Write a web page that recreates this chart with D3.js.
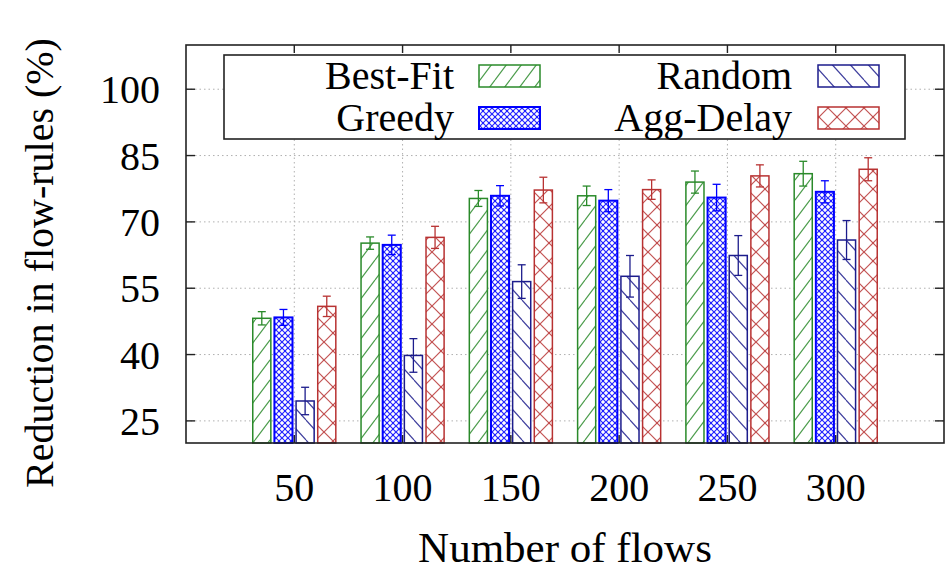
<!DOCTYPE html>
<html>
<head>
<meta charset="utf-8">
<script src="https://cdn.jsdelivr.net/npm/d3@7"></script>
<style>
  body { margin: 0; background: #fff; }
  svg text { font-family: "Liberation Serif", "DejaVu Serif", serif; fill: #000; }
</style>
</head>
<body>
<svg id="chart" width="945" height="570"></svg>
<script>
// data
const flows = ["50", "100", "150", "200", "250", "300"];
const seriesNames = ["Best-Fit", "Greedy", "Random", "Agg-Delay"];
const bestFit = [48.2, 65.2, 75.3, 75.9, 79.0, 80.9];
const bestFitErr = [1.5, 1.4, 1.8, 2.2, 2.5, 2.8];
const greedy = [48.4, 64.8, 75.9, 74.8, 75.5, 76.8];
const greedyErr = [1.8, 2.2, 2.3, 2.5, 3.0, 2.5];
const random = [29.5, 39.8, 56.5, 57.7, 62.4, 65.9];
const randomErr = [3.1, 3.8, 3.8, 4.7, 4.5, 4.4];
const aggDelay = [50.9, 66.5, 77.2, 77.3, 80.4, 81.9];
const aggDelayErr = [2.3, 2.5, 2.9, 2.2, 2.5, 2.6];
const yTicks = [25, 40, 55, 70, 85, 100];

const values = [bestFit, greedy, random, aggDelay];
const errors = [bestFitErr, greedyErr, randomErr, aggDelayErr];
const colors = ["#2a8a2a", "#0000ff", "#1c1c8c", "#b83232"];
const patternIds = ["pBest", "pGreedy", "pRandom", "pAgg"];

const svg = d3.select("#chart");
const plotLeft = 186, plotRight = 944, plotTop = 45, plotBottom = 443;

// gnuplot style histogram: groups sit at 0..5 on a -1..6 axis
const x = d3.scaleLinear().domain([-1, 6]).range([plotLeft, plotRight]);
const y = d3.scaleLinear().domain([20, 110]).range([plotBottom, plotTop]);
const slot = 0.2, barW = 0.167;

// fill patterns
const defs = svg.append("defs");
const addPattern = (id, w, h, color, lines, sw) => {
  const p = defs.append("pattern")
    .attr("id", id)
    .attr("patternUnits", "userSpaceOnUse")
    .attr("width", w)
    .attr("height", h);
  p.append("rect").attr("width", w).attr("height", h).attr("fill", "#fff");
  lines.forEach(l => {
    p.append("line")
      .attr("x1", l[0]).attr("y1", l[1]).attr("x2", l[2]).attr("y2", l[3])
      .attr("stroke", color).attr("stroke-width", sw).attr("stroke-opacity", 0.85);
  });
};
addPattern("pBest", 15, 20, colors[0], [[0, 20, 15, 0], [-15, 20, 0, 0], [15, 20, 30, 0]], 1.2);
addPattern("pGreedy", 6, 6, colors[1], [[0, 0, 6, 6], [6, 0, 0, 6]], 1.2);
addPattern("pRandom", 18, 20, colors[2], [[0, 0, 18, 20], [-18, 0, 0, 20], [18, 0, 36, 20]], 1.2);
addPattern("pAgg", 18, 18, colors[3], [[0, 0, 18, 18], [18, 0, 0, 18]], 1.2);

// grid
const grid = svg.append("g").attr("stroke", "#b0b0b0").attr("stroke-dasharray", "1.5,3").attr("stroke-width", 1);
grid.selectAll("line.h").data(yTicks).enter().append("line")
  .attr("x1", plotLeft).attr("x2", plotRight)
  .attr("y1", d => y(d)).attr("y2", d => y(d));
grid.selectAll("line.v").data(flows).enter().append("line")
  .attr("x1", (d, i) => x(i)).attr("x2", (d, i) => x(i))
  .attr("y1", plotTop).attr("y2", plotBottom);

// bars + error bars
seriesNames.forEach((name, s) => {
  const g = svg.append("g");
  const off = (s - 1.5) * slot;
  g.selectAll("rect").data(values[s]).enter().append("rect")
    .attr("x", (d, i) => x(i + off - barW / 2))
    .attr("width", x(barW) - x(0))
    .attr("y", d => y(d))
    .attr("height", d => plotBottom - y(d))
    .attr("fill", "url(#" + patternIds[s] + ")")
    .attr("stroke", colors[s])
    .attr("stroke-width", s === 1 ? 2 : 1.5);

  const eb = g.selectAll("g.err").data(values[s]).enter().append("g")
    .attr("stroke", colors[s]).attr("stroke-width", 1.3);
  eb.append("line")
    .attr("x1", (d, i) => x(i + off)).attr("x2", (d, i) => x(i + off))
    .attr("y1", (d, i) => y(d + errors[s][i])).attr("y2", (d, i) => y(d - errors[s][i]));
  [1, -1].forEach(sign => {
    eb.append("line")
      .attr("x1", (d, i) => x(i + off) - 4).attr("x2", (d, i) => x(i + off) + 4)
      .attr("y1", (d, i) => y(d + sign * errors[s][i]))
      .attr("y2", (d, i) => y(d + sign * errors[s][i]));
  });
});

// frame and inward ticks
svg.append("rect")
  .attr("x", plotLeft).attr("y", plotTop)
  .attr("width", plotRight - plotLeft).attr("height", plotBottom - plotTop)
  .attr("fill", "none").attr("stroke", "#222").attr("stroke-width", 1.6);

const ticks = svg.append("g").attr("stroke", "#222").attr("stroke-width", 1.4);
yTicks.forEach(t => {
  ticks.append("line").attr("x1", plotLeft).attr("x2", plotLeft + 9).attr("y1", y(t)).attr("y2", y(t));
  ticks.append("line").attr("x1", plotRight - 9).attr("x2", plotRight).attr("y1", y(t)).attr("y2", y(t));
});
flows.forEach((f, i) => {
  ticks.append("line").attr("x1", x(i)).attr("x2", x(i)).attr("y1", plotBottom).attr("y2", plotBottom - 8);
  ticks.append("line").attr("x1", x(i)).attr("x2", x(i)).attr("y1", plotTop).attr("y2", plotTop + 8);
});

// tick labels
svg.selectAll("text.ytick").data(yTicks).enter().append("text")
  .attr("class", "ytick")
  .attr("x", 160).attr("y", d => y(d) + 14)
  .attr("text-anchor", "end").attr("font-size", 40)
  .text(d => d);
svg.selectAll("text.xtick").data(flows).enter().append("text")
  .attr("class", "xtick")
  .attr("x", (d, i) => x(i)).attr("y", 501)
  .attr("text-anchor", "middle").attr("font-size", 40)
  .text(d => d);

// axis titles
svg.append("text")
  .attr("x", 565).attr("y", 562)
  .attr("text-anchor", "middle").attr("font-size", 43)
  .text("Number of flows");
svg.append("text")
  .attr("transform", "translate(53,263) rotate(-90)")
  .attr("text-anchor", "middle").attr("font-size", 40)
  .text("Reduction in flow-rules (%)");

// legend, two columns
const legend = svg.append("g");
legend.append("rect")
  .attr("x", 224).attr("y", 55).attr("width", 681).attr("height", 84)
  .attr("fill", "#fff").attr("stroke", "#222").attr("stroke-width", 1.6);
const legendPos = [[454, 479, 65], [454, 479, 107], [792, 818, 65], [792, 818, 107]];
seriesNames.forEach((name, s) => {
  const p = legendPos[s];
  legend.append("text")
    .attr("x", p[0]).attr("y", p[2] + 24)
    .attr("text-anchor", "end").attr("font-size", 40)
    .text(name);
  legend.append("rect")
    .attr("x", p[1]).attr("y", p[2]).attr("width", 61).attr("height", 22)
    .attr("fill", "url(#" + patternIds[s] + ")")
    .attr("stroke", colors[s]).attr("stroke-width", s === 1 ? 2 : 1.5);
});
</script>
</body>
</html>
